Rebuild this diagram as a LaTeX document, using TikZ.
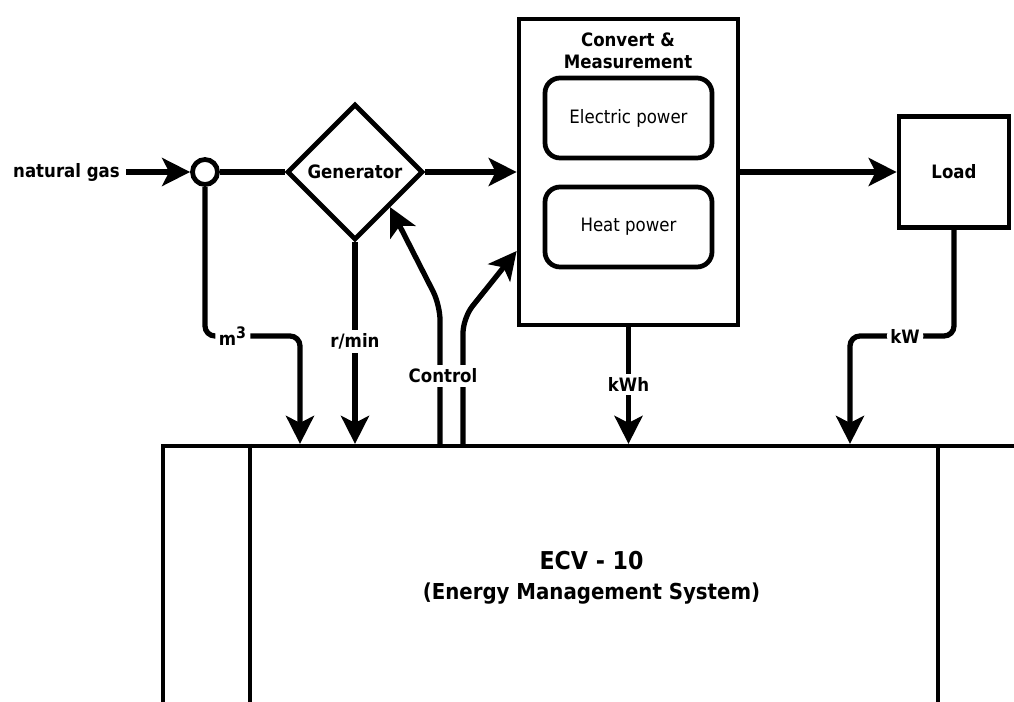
\documentclass[tikz,border=0pt]{standalone}
\usepackage{fontspec}
\setmainfont{DejaVu Sans Condensed}
\usetikzlibrary{positioning,arrows.meta,shapes.geometric}

\tikzset{
  flow/.style={line width=3pt,-{Stealth[length=0.56cm,width=0.56cm,inset=0.14cm]}},
  wire/.style={line width=3pt},
  blk/.style={draw,line width=2.7pt,align=center,inner sep=0pt},
  txt/.style={font=\fontsize{10.5}{12.6}\selectfont},
  btxt/.style={font=\fontsize{10.5}{12.6}\selectfont\bfseries},
  lbl/.style={btxt,fill=white,inner sep=2pt}
}

\begin{document}
\begin{tikzpicture}[x=0.02cm,y=-0.02cm]
  \useasboundingbox (0,0) rectangle (1014,702);
  \clip (0,0) rectangle (1014,702);

  % blocks
  \node[draw,line width=2.4pt,minimum width=17.14cm,minimum height=5.28cm,align=center,
        font=\fontsize{12.5}{17}\selectfont\bfseries] (ecv) at (591.5,578)
       {{\fontsize{14}{17}\selectfont ECV - 10}\\(Energy Management System)};
  \draw[line width=2.4pt] (ecv.north -| 250,0) -- (ecv.south -| 250,0);
  \draw[line width=2.4pt] (ecv.north -| 938,0) -- (ecv.south -| 938,0);

  \node[btxt,anchor=east] (gas) at (126,172) {natural gas};
  \node[circle,draw,line width=2.7pt,minimum size=0.5cm,inner sep=0pt] (junc) at (205,172) {};
  \node[blk,btxt,diamond,aspect=1,minimum width=2.72cm,minimum height=2.72cm] (gen) at (355,172) {Generator};
  \node[blk,minimum width=4.38cm,minimum height=6.12cm] (conv) at (628.5,172) {};
  \node[btxt,align=center] (convtitle) at (628,51) {Convert \&\\Measurement};
  \node[blk,txt,rounded corners=0.3cm,minimum width=3.34cm,minimum height=1.6cm] (elec) at (628.5,118) {Electric power};
  \node[blk,txt,rounded corners=0.3cm,minimum width=3.34cm,minimum height=1.6cm] (heat) at (628.5,227) {Heat power};
  \node[blk,btxt,minimum width=2.2cm,minimum height=2.22cm] (load) at (954,172) {Load};

  % main line
  \draw[flow] (gas) -- (junc);
  \draw[wire] (junc) -- (gen);
  \draw[flow] (gen) -- (conv);
  \draw[flow] (conv) -- (load);

  % measured values
  \draw[flow,rounded corners=0.2cm] (junc.south) |- node[lbl,pos=0.647] (m3lbl) {m\textsuperscript{\fontsize{9}{10}\selectfont 3}} (300,336) -- (ecv.north -| 300,0);
  \draw[flow] (gen.south) -- node[lbl,pos=0.49] (rpm) {r/min} (gen.south |- ecv.north);
  \draw[flow] (conv.south) -- node[lbl,pos=0.49] (kwh) {kWh} (conv.south |- ecv.north);
  \draw[flow,rounded corners=0.2cm] (load.south) |- node[lbl,pos=0.735] (kwlbl) {kW} (850,336) -- (ecv.north -| 850,0);

  % control
  \draw[flow,rounded corners=0.3cm] (ecv.north -| 440,0) -- (440,305) -- (gen.south east);
  \draw[flow,rounded corners=0.3cm] (ecv.north -| 463,0) -- (463,318) -- (conv.west |- 0,251);
  \node[lbl] (ctrl) at (443,376) {Control};
\end{tikzpicture}
\end{document}
